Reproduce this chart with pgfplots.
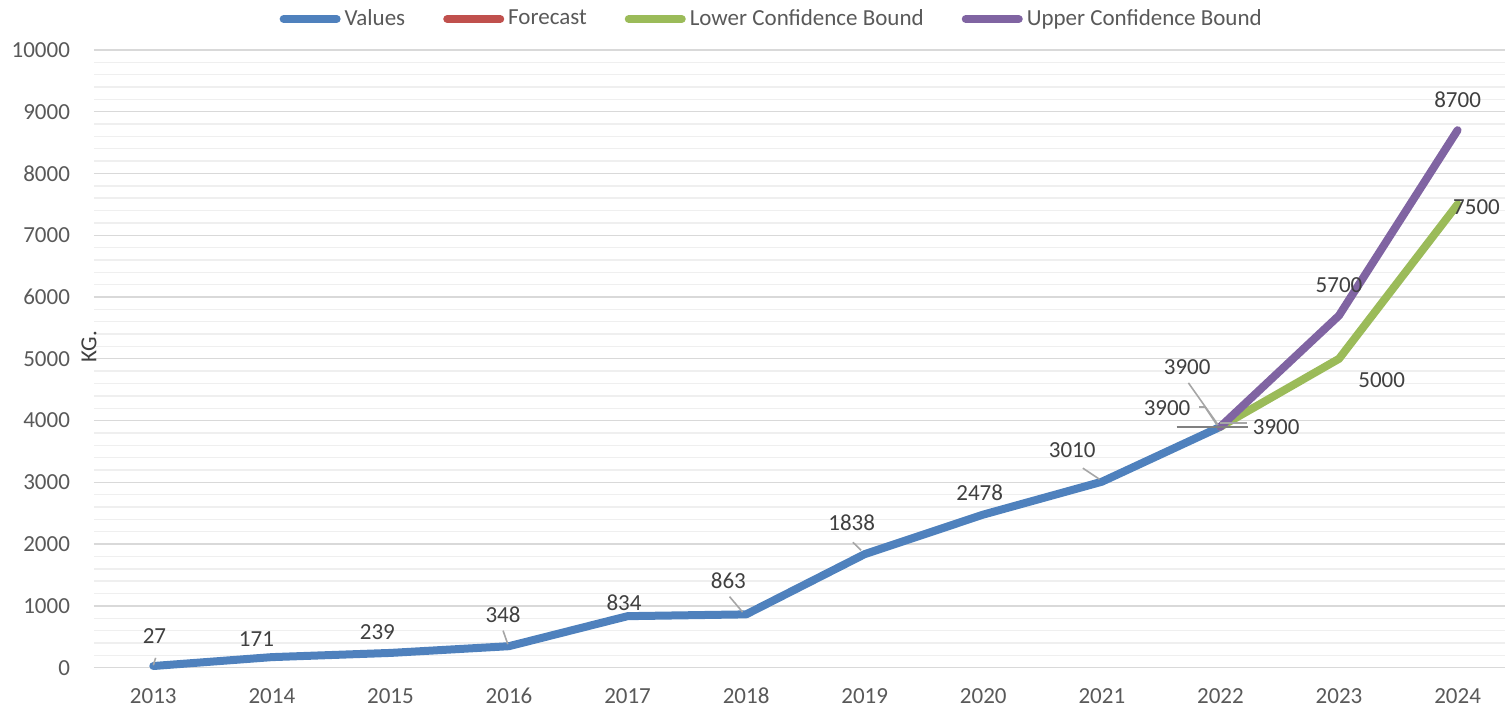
\documentclass[border=0pt]{standalone}
\usepackage{pgfplots}
\pgfplotsset{compat=1.18}
\usepackage{fontspec}
\setmainfont{Carlito}
\definecolor{cVal}{HTML}{4F81BD}
\definecolor{cFc}{HTML}{C0504D}
\definecolor{cLo}{HTML}{9BBB59}
\definecolor{cUp}{HTML}{8064A2}
\definecolor{cTxt}{HTML}{404040}
\definecolor{cTick}{HTML}{595959}
\definecolor{cMaj}{HTML}{D9D9D9}
\definecolor{cMin}{HTML}{EFEFEF}
\definecolor{cLead}{HTML}{A6A6A6}
\begin{document}
\fontsize{11.5}{14}\selectfont
\begin{tikzpicture}
\begin{axis}[
  at={(0,0)}, anchor=south west,
  scale only axis,
  width=705.5pt, height=308.9pt,
  xmin=-0.5, xmax=11.4,
  ymin=0, ymax=10000,
  clip=false,
  axis line style={draw=none},
  xtick={0,...,11},
  xticklabels={2013,2014,2015,2016,2017,2018,2019,2020,2021,2022,2023,2024},
  ytick={0,1000,...,10000},
  minor ytick={200,400,...,9800},
  scaled y ticks=false,
  major tick length=0pt, minor tick length=0pt,
  ymajorgrids, yminorgrids,
  major grid style={draw=cMaj, line width=0.7pt},
  minor grid style={draw=cMin, line width=0.7pt},
  /pgf/number format/assume math mode=true,
  yticklabel={\pgfmathprintnumber[fixed,1000 sep={}]{\tick}},
  ticklabel style={font=\fontsize{11.5}{14}\selectfont, text=cTick},
  xticklabel style={yshift=-5pt, text height=1.6ex, text depth=0.3ex, anchor=north},
  yticklabel style={xshift=-8pt},
  legend style={at={(0.481,1.05)}, anchor=center, draw=none, fill=none,
    legend columns=4, font=\fontsize{11.5}{14}\selectfont, text=cTick,
    /tikz/every even column/.append style={column sep=17pt},
    inner sep=0pt, cells={anchor=west}},
  legend image code/.code={\draw[line width=4pt, line cap=round, #1] (1.5pt,0pt) -- (28pt,0pt);},
  every axis plot/.append style={line width=4pt, line cap=round, line join=round},
]
\addplot[cVal] coordinates {(0,27) (1,171) (2,239) (3,348) (4,834) (5,863) (6,1838) (7,2478) (8,3010) (9,3900)};
\addlegendentry{Values}
\addplot[cFc] coordinates {(9,3900)};
\addlegendentry{Forecast}
\addplot[cLo] coordinates {(9,3900) (10,5000) (11,7500)};
\addlegendentry{Lower Confidence Bound}
\addplot[cUp] coordinates {(9,3900) (10,5700) (11,8700)};
\addlegendentry{Upper Confidence Bound}

% leader lines
\draw[cLead, line width=0.8pt] (axis cs:0.02,160) -- (axis cs:0,40);
\draw[cLead, line width=0.8pt] (axis cs:2.95,600) -- (axis cs:2.99,380);
\draw[cLead, line width=0.8pt] (axis cs:4.86,1150) -- (axis cs:4.97,900);
\draw[cLead, line width=0.8pt] (axis cs:5.9,2030) -- (axis cs:5.97,1900);
\draw[cLead, line width=0.8pt] (axis cs:7.84,3230) -- (axis cs:7.98,3050);
\draw[cLead, line width=0.8pt] (axis cs:8.73,4610) -- (axis cs:8.98,3930);
\draw[cLead, line width=0.8pt] (axis cs:8.82,4220) -- (axis cs:8.87,4220) -- (axis cs:8.97,3930);
\draw[gray, line width=1.2pt] (axis cs:8.63,3900) -- (axis cs:9.23,3900);
\draw[cLead, line width=0.8pt] (axis cs:9.0,3960) -- (axis cs:9.22,3960);

% data labels
\begin{scope}[every node/.style={text=cTxt, font=\fontsize{11.5}{14}\selectfont, inner sep=0pt}]
\node at (axis cs:0.01,513) {27};
\node at (axis cs:0.87,463) {171};
\node at (axis cs:1.89,578) {239};
\node at (axis cs:2.95,853) {348};
\node at (axis cs:3.97,1048) {834};
\node at (axis cs:4.85,1404) {863};
\node at (axis cs:5.89,2343) {1838};
\node at (axis cs:6.97,2828) {2478};
\node at (axis cs:7.75,3525) {3010};
\node at (axis cs:8.72,4865) {3900};
\node at (axis cs:8.55,4205) {3900};
\node at (axis cs:9.47,3897) {3900};
\node at (axis cs:10.0,6193) {5700};
\node at (axis cs:10.36,4658) {5000};
\node at (axis cs:11.0,9189) {8700};
\node at (axis cs:11.16,7455) {7500};
\end{scope}
\node[rotate=90, text=cTxt, font=\fontsize{11.5}{14}\selectfont, inner sep=0pt] at (axis description cs:-0.0035,0.52) {KG.};
\end{axis}
\pgfresetboundingbox
\path[use as bounding box] (-47pt,-21.15pt) rectangle (705.5pt,333.85pt);
\end{tikzpicture}
\end{document}
